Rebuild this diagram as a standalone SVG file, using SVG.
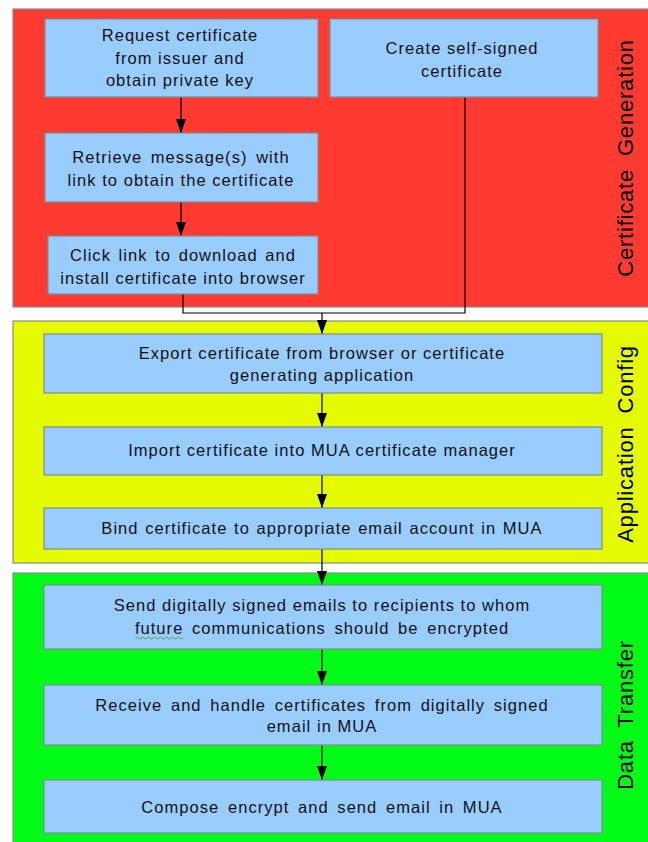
<svg xmlns="http://www.w3.org/2000/svg" width="648" height="842" viewBox="0 0 648 842">
<defs>
<style>
.panel{stroke:#8a8a8a;stroke-width:1.2}
.box{fill:#99ccff;stroke:#7f8c99;stroke-width:1.2}
.t{font-family:"Liberation Sans",Arial,sans-serif;font-size:16.5px;letter-spacing:1.05px;fill:#111;text-anchor:middle}
.lab{font-family:"Liberation Sans",Arial,sans-serif;font-size:22px;letter-spacing:0.8px;word-spacing:6px;fill:#000;text-anchor:middle}
.c{fill:none;stroke:#000;stroke-width:1.2}
</style>
<marker id="ah" markerWidth="14" markerHeight="10" refX="14" refY="5" orient="auto" markerUnits="userSpaceOnUse" viewBox="0 0 14 10">
<path d="M0,0 L14,5 L0,10 Z" fill="#000"/>
</marker>
</defs>
<rect width="648" height="842" fill="#fff"/>
<g id="panel-cert">
<rect class="panel" x="13" y="9" width="640" height="298" fill="#ff3a30"/>
<text class="lab" transform="translate(633,158) rotate(-90)">Certificate Generation</text>
</g>
<g id="panel-app">
<rect class="panel" x="13" y="321" width="640" height="242" fill="#e5fb00"/>
<text class="lab" transform="translate(633,444) rotate(-90)">Application Config</text>
</g>
<g id="panel-data">
<rect class="panel" x="13" y="573" width="640" height="275" fill="#00fb17"/>
<text class="lab" transform="translate(633,715) rotate(-90)">Data Transfer</text>
</g>
<g id="connectors">
<line class="c" x1="181" y1="97" x2="181" y2="133" marker-end="url(#ah)"/>
<line class="c" x1="181" y1="202" x2="181" y2="236" marker-end="url(#ah)"/>
<polyline class="c" points="183,294 183,313 465,313 465,97"/>
<line class="c" x1="322" y1="313" x2="322" y2="334" marker-end="url(#ah)"/>
<line class="c" x1="322" y1="393" x2="322" y2="427" marker-end="url(#ah)"/>
<line class="c" x1="322" y1="475" x2="322" y2="508" marker-end="url(#ah)"/>
<line class="c" x1="322" y1="549" x2="322" y2="585" marker-end="url(#ah)"/>
<line class="c" x1="322" y1="649" x2="322" y2="685" marker-end="url(#ah)"/>
<line class="c" x1="322" y1="745" x2="322" y2="780" marker-end="url(#ah)"/>
</g>
<g id="n-request">
<rect class="box" x="45" y="19" width="273" height="78"/>
<text class="t" x="180" y="41">Request certificate</text>
<text class="t" x="180" y="64">from issuer and</text>
<text class="t" x="180" y="86">obtain private key</text>
</g>
<g id="n-self">
<rect class="box" x="330" y="19" width="268" height="78"/>
<text class="t" x="462" y="54">Create self-signed</text>
<text class="t" x="462" y="77">certificate</text>
</g>
<g id="n-retrieve">
<rect class="box" x="45" y="133" width="273" height="69"/>
<text class="t" x="181" y="163" word-spacing="3">Retrieve message(s) with</text>
<text class="t" x="181" y="186">link to obtain the certificate</text>
</g>
<g id="n-click">
<rect class="box" x="48" y="236" width="270" height="58"/>
<text class="t" x="183" y="261" word-spacing="2">Click link to download and</text>
<text class="t" x="183" y="284">install certificate into browser</text>
</g>
<g id="n-export">
<rect class="box" x="44" y="334" width="558" height="59"/>
<text class="t" x="322" y="359">Export certificate from browser or certificate</text>
<text class="t" x="322" y="381">generating application</text>
</g>
<g id="n-import">
<rect class="box" x="44" y="427" width="558" height="48"/>
<text class="t" x="322" y="456">Import certificate into MUA certificate manager</text>
</g>
<g id="n-bind">
<rect class="box" x="44" y="508" width="558" height="41"/>
<text class="t" x="322" y="534" word-spacing="1">Bind certificate to appropriate email account in MUA</text>
</g>
<g id="n-send">
<rect class="box" x="44" y="585" width="558" height="64"/>
<text class="t" x="322" y="611">Send digitally signed emails to recipients to whom</text>
<text class="t" x="322" y="634" word-spacing="3">future communications should be encrypted</text>
<path d="M135,638 q1.5,-2 3,0 t3,0 t3,0 t3,0 t3,0 t3,0 t3,0 t3,0 t3,0 t3,0 t3,0 t3,0 t3,0 t3,0 t3,0 t3,0" fill="none" stroke="#3a9a3a" stroke-width="0.8"/>
</g>
<g id="n-receive">
<rect class="box" x="44" y="685" width="558" height="60"/>
<text class="t" x="322" y="711" word-spacing="3">Receive and handle certificates from digitally signed</text>
<text class="t" x="322" y="732">email in MUA</text>
</g>
<g id="n-compose">
<rect class="box" x="44" y="780" width="558" height="53"/>
<text class="t" x="322" y="813" word-spacing="3">Compose encrypt and send email in MUA</text>
</g>
</svg>
